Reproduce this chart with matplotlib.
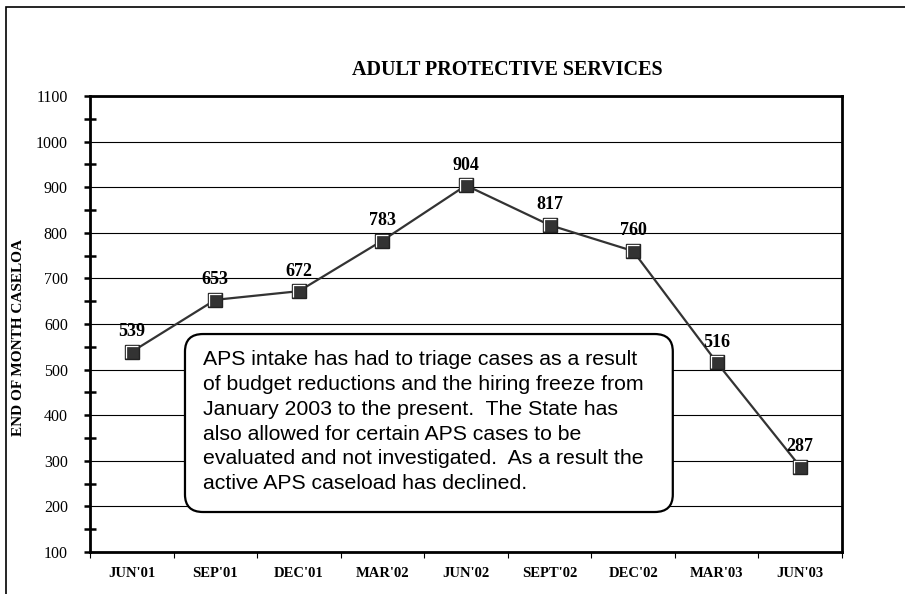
import matplotlib.pyplot as plt
import numpy as np
from matplotlib.path import Path
from matplotlib.patches import FancyBboxPatch, Rectangle
from matplotlib.ticker import MultipleLocator, FixedLocator, NullFormatter

# --- DATA ---
quarters = ["JUN'01", "SEP'01", "DEC'01", "MAR'02", "JUN'02",
            "SEPT'02", "DEC'02", "MAR'03", "JUN'03"]
caseload = [539, 653, 672, 783, 904, 817, 760, 516, 287]

title = "ADULT PROTECTIVE SERVICES"
ylabel = "END OF MONTH CASELOA"
note = ("APS intake has had to triage cases as a result\n"
        "of budget reductions and the hiring freeze from\n"
        "January 2003 to the present.  The State has\n"
        "also allowed for certain APS cases to be\n"
        "evaluated and not investigated.  As a result the\n"
        "active APS caseload has declined.")

SERIF = "Liberation Serif"
SANS = "Liberation Sans"

fig = plt.figure(figsize=(9.05, 5.94), dpi=100)
W, H = 905, 594
ax = fig.add_axes([90 / W, (H - 552) / H, (842 - 90) / W, (552 - 96) / H])

# outer frame (only top and left edges show in the picture)
fig.patches.append(Rectangle((6 / W, -0.1), 1.2, (H - 7) / H + 0.1,
                             transform=fig.transFigure, fill=False,
                             edgecolor='black', linewidth=1.2))

x = np.arange(len(quarters))

# line + square markers
ax.plot(x, caseload, color='#333333', linewidth=1.6, marker='s',
        markersize=10.5, markerfacecolor='#333333', markeredgecolor='#222222',
        markeredgewidth=1, zorder=4)

# white bevel highlight on the markers (top-left edge)
bevel = Path([(-1, -1), (-1, 1), (1, 1)], [Path.MOVETO, Path.LINETO, Path.LINETO])
ax.plot(x, caseload, linestyle='none', marker=bevel, markersize=8,
        markerfacecolor='none', markeredgecolor='white', markeredgewidth=0.9,
        zorder=5)

# value labels
for xi, v in zip(x, caseload):
    ax.annotate(str(v), (xi, v), xytext=(0, 14.5), textcoords='offset points',
                ha='center', va='center', fontsize=13, fontweight='bold',
                family=SERIF, zorder=6)

# axes limits / ticks
ax.set_xlim(-0.5, len(quarters) - 0.5)
ax.set_ylim(100, 1100)
ax.yaxis.set_major_locator(MultipleLocator(100))
ax.yaxis.set_minor_locator(MultipleLocator(50))
ax.tick_params(axis='y', which='major', direction='out', length=4, width=1.8,
               pad=12, labelsize=11.5)
ax.tick_params(axis='y', which='minor', direction='inout', length=9, width=1.8)
for lbl in ax.get_yticklabels():
    lbl.set_family(SERIF)

ax.xaxis.set_major_locator(FixedLocator(np.arange(-0.5, len(quarters), 1.0)))
ax.xaxis.set_major_formatter(NullFormatter())
ax.xaxis.set_minor_locator(FixedLocator(x))
ax.set_xticks(x, quarters, minor=True)
ax.tick_params(axis='x', which='major', direction='out', length=4, width=0.8)
ax.tick_params(axis='x', which='minor', length=0, pad=11, labelsize=10.5)
for lbl in ax.get_xticklabels(minor=True):
    lbl.set_family(SERIF)
    lbl.set_fontweight('bold')

ax.grid(axis='y', which='major', color='black', linewidth=0.8)
ax.set_axisbelow(True)
for s in ax.spines.values():
    s.set_linewidth(2)

ax.set_ylabel(ylabel, family=SERIF, fontweight='bold', fontsize=11)
ax.yaxis.set_label_coords(-0.086, 0.47)

fig.text(507 / W, 1 - 70 / H, title, ha='center', va='center',
         family=SERIF, fontweight='bold', fontsize=14.5)

# note box
box = FancyBboxPatch((0.1263, 0.0877), 0.775 - 0.1263, 0.478 - 0.0877,
                     boxstyle='round,pad=0,rounding_size=0.024',
                     transform=ax.transAxes, facecolor='white',
                     edgecolor='black', linewidth=1.6, zorder=7,
                     mutation_aspect=1.6)
ax.add_patch(box)
ax.text(0.150, (0.0877 + 0.478) / 2 + 0.003, note, transform=ax.transAxes,
        ha='left', va='center', family=SANS, fontsize=15.3, linespacing=1.38,
        zorder=8)

fig.savefig('out.png', dpi=100)
